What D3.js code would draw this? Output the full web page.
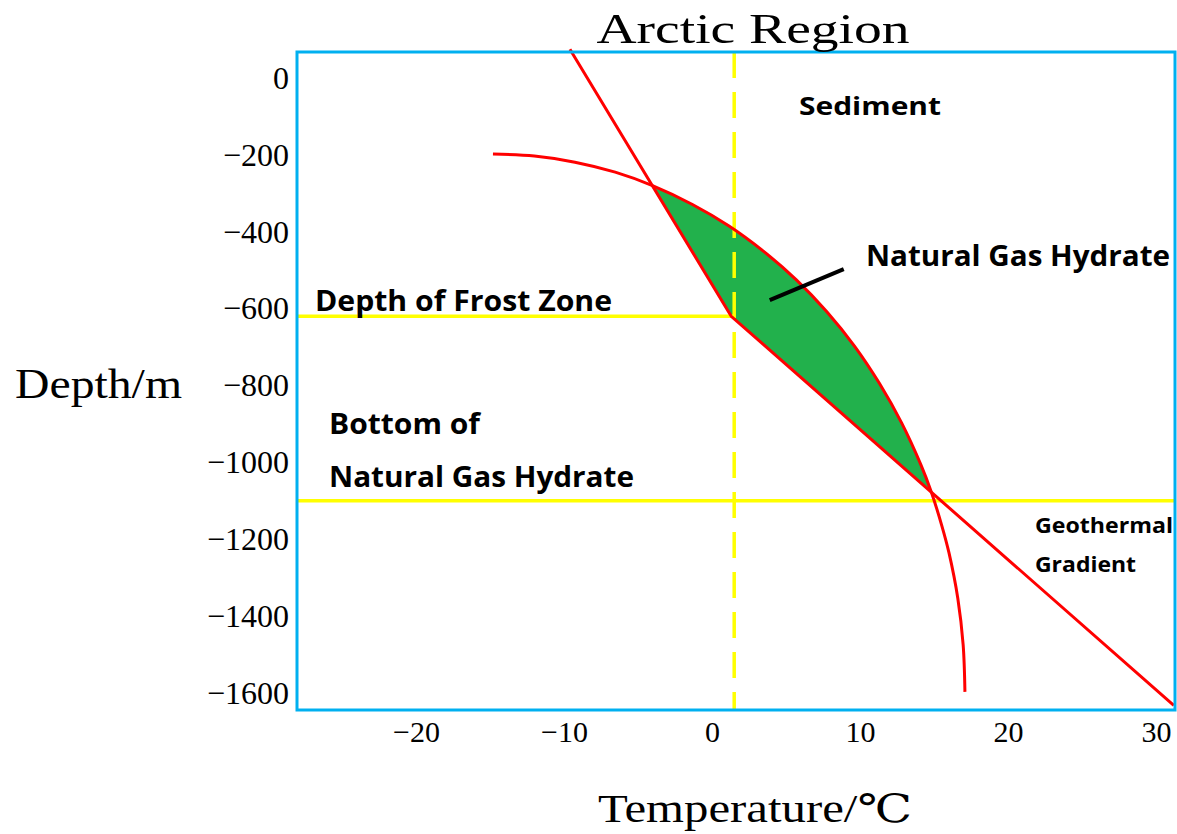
<!DOCTYPE html>
<html>
<head>
<meta charset="utf-8">
<script src="https://cdn.jsdelivr.net/npm/d3@7"></script>
<style>
  body { margin: 0; background: #fff; }
  .serif { font-family: "Liberation Serif", "DejaVu Serif", "Noto Sans CJK SC", serif; fill: #000; }
  .lbl { font-family: "Open Sans", "Noto Sans", sans-serif; font-weight: 700; fill: #000; }
</style>
</head>
<body>
<div id="chart"></div>
<script>
// tick values
const xTicks = [-20, -10, 0, 10, 20, 30];
const yTicks = [0, -200, -400, -600, -800, -1000, -1200, -1400, -1600];

// phase boundary of hydrate (temperature °C, depth m)
const phaseT = [-14.8, -12.0, -9.26, -6.54, -4.02, -1.32, 1.15, 3.49, 5.70, 7.76, 9.64, 11.32, 12.82, 14.11, 14.80, 15.53, 16.01, 16.61, 16.97, 17.09];
const phaseD = [-198, -203, -219, -245, -280, -329, -385, -451, -525, -608, -698, -795, -898, -1006, -1075, -1165, -1235, -1354, -1475, -1597];

// geothermal gradient (kinks at base of frost zone)
const geoT = [-9.6, 1.3, 31.2];
const geoD = [75, -620, -1632];

// reference levels
const frostDepth = -620;
const hydrateBottomDepth = -1100;
const zeroLineT = 1.5;
// where the gradient crosses the phase boundary
const hydrateTopD = -280, hydrateBotD = -1075;

// pointer from hydrate zone to its label
const pointerT = [3.9, 8.9];
const pointerD = [-578, -497];

const labels = ["Sediment", "Natural Gas Hydrate", "Depth of Frost Zone", "Bottom of", "Natural Gas Hydrate", "Geothermal", "Gradient"];

// set the dimensions and margins of the graph
const margin = { top: 52, right: 2, bottom: 124, left: 297 },
  width = 1177 - margin.left - margin.right,
  height = 834 - margin.top - margin.bottom;

const root = d3.select("#chart").append("svg").attr("width", 1177).attr("height", 834);
const svg = root.append("g").attr("transform", `translate(${margin.left},${margin.top})`);

const x = d3.scaleLinear().domain([-20, 30]).range([119, 859]);
const y = d3.scaleLinear().domain([0, -1600]).range([26, 641]);

const phase = phaseT.map((t, i) => ({ T: t, D: phaseD[i] }));
const geo = geoT.map((t, i) => ({ T: t, D: geoD[i] }));

const line = d3.line().x((d) => x(d.T)).y((d) => y(d.D));
const smooth = d3.line().x((d) => x(d.T)).y((d) => y(d.D)).curve(d3.curveCatmullRom);

// green hydrate zone: geothermal side then phase curve back up
const curvePart = phase.filter((d) => d.D <= hydrateTopD && d.D >= hydrateBotD).reverse();
const geoPart = [curvePart[curvePart.length - 1], geo[1], curvePart[0]];
svg.append("path")
  .attr("d", line(geoPart) + smooth(curvePart).replace(/^M/, "L") + "Z")
  .attr("fill", "#22b14c")
  .attr("stroke", "#fff")
  .attr("stroke-width", 1);

// yellow reference lines
svg.append("line")
  .attr("x1", 0).attr("x2", x(zeroLineT))
  .attr("y1", y(frostDepth)).attr("y2", y(frostDepth))
  .attr("stroke", "#ffff00").attr("stroke-width", 3.5);
svg.append("line")
  .attr("x1", 0).attr("x2", width)
  .attr("y1", y(hydrateBottomDepth)).attr("y2", y(hydrateBottomDepth))
  .attr("stroke", "#ffff00").attr("stroke-width", 3.5);
svg.append("line")
  .attr("x1", x(zeroLineT)).attr("x2", x(zeroLineT))
  .attr("y1", 0).attr("y2", height)
  .attr("stroke", "#ffff00").attr("stroke-width", 3.5)
  .attr("stroke-dasharray", "26,14");

// red curves
svg.append("path").attr("d", smooth(phase)).attr("fill", "none").attr("stroke", "#ff0000").attr("stroke-width", 3);
svg.append("path").attr("d", line(geo)).attr("fill", "none").attr("stroke", "#ff0000").attr("stroke-width", 3);

// pointer
svg.append("path")
  .attr("d", line(pointerT.map((t, i) => ({ T: t, D: pointerD[i] }))))
  .attr("stroke", "#000").attr("stroke-width", 4);

// frame
svg.append("rect")
  .attr("width", width).attr("height", height)
  .attr("fill", "none").attr("stroke", "#00b0f0").attr("stroke-width", 3);

// axes
const yAxis = svg.append("g").call(d3.axisLeft(y).tickValues(yTicks).tickSize(0).tickPadding(8).tickFormat(d3.format("d")));
yAxis.select(".domain").remove();
yAxis.selectAll("text").attr("class", "serif").style("font-size", "32px").attr("fill", "#000");

const xAxis = svg.append("g").attr("transform", `translate(0,${height})`)
  .call(d3.axisBottom(x).tickValues(xTicks).tickSize(0).tickPadding(11).tickFormat(d3.format("d")));
xAxis.select(".domain").remove();
xAxis.selectAll("text").attr("class", "serif").style("font-size", "30px").attr("fill", "#000");

// titles
root.append("text").attr("class", "serif").attr("x", 753).attr("y", 43)
  .attr("text-anchor", "middle").style("font-size", "42px")
  .attr("textLength", 313).attr("lengthAdjust", "spacingAndGlyphs").text("Arctic Region");
root.append("text").attr("class", "serif").attr("x", 15).attr("y", 398)
  .style("font-size", "42px")
  .attr("textLength", 167).attr("lengthAdjust", "spacingAndGlyphs").text("Depth/m");
root.append("text").attr("class", "serif").attr("x", 598).attr("y", 822)
  .style("font-size", "39px")
  .attr("textLength", 314).attr("lengthAdjust", "spacingAndGlyphs").text("Temperature/℃");

// annotations
const place = [
  [799, 115, 25, 142],
  [866, 266, 28, 304],
  [315, 311, 28, 297],
  [329, 434, 28, 151],
  [329, 487, 28, 305],
  [1035, 533, 21, 138],
  [1035, 572, 21, 101],
];
labels.forEach(function (t, i) {
  const p = place[i];
  root.append("text").attr("class", "lbl")
    .attr("x", p[0]).attr("y", p[1]).style("font-size", p[2] + "px")
    .attr("textLength", p[3]).attr("lengthAdjust", "spacingAndGlyphs")
    .text(t);
});
</script>
</body>
</html>
